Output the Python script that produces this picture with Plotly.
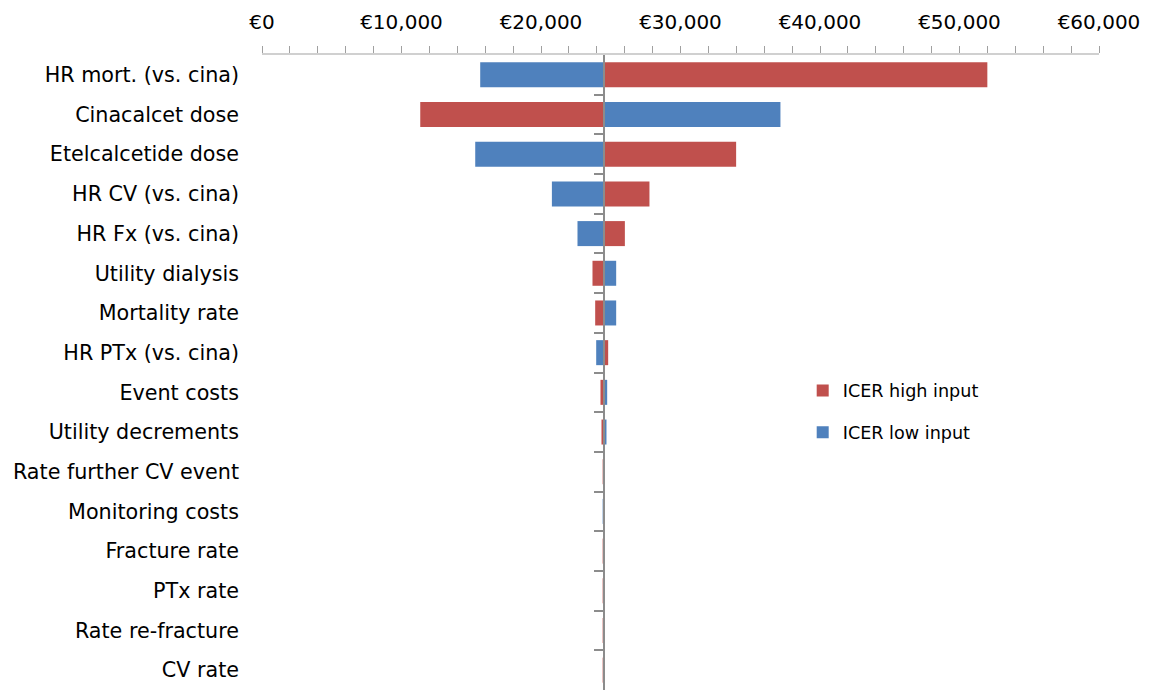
import plotly.graph_objects as go

categories = ["HR mort. (vs. cina)", "Cinacalcet dose", "Etelcalcetide dose", "HR CV (vs. cina)",
              "HR Fx (vs. cina)", "Utility dialysis", "Mortality rate", "HR PTx (vs. cina)",
              "Event costs", "Utility decrements", "Rate further CV event", "Monitoring costs",
              "Fracture rate", "PTx rate", "Rate re-fracture", "CV rate"]

base_icer = 24530

icer_high = [51996, 11344, 33988, 27775, 26012, 23691, 23884, 24815,
             24264, 24336, 24420, 24530, 24420, 24420, 24420, 24420]
icer_low = [15642, 37164, 15285, 20781, 22616, 25389, 25389, 23956,
            24744, 24694, 24530, 24420, 24530, 24530, 24530, 24530]

x_ticks = [0, 10000, 20000, 30000, 40000, 50000, 60000]

RED = "#C0504D"
BLUE = "#4F81BD"
FONT = "DejaVu Sans"

fig = go.Figure()
fig.add_trace(go.Bar(
    y=categories, x=[v - base_icer for v in icer_high], base=base_icer,
    orientation="h", name="ICER high input", marker=dict(color=RED, line=dict(width=0)),
    width=0.63, legendgroup="high"))
fig.add_trace(go.Bar(
    y=categories, x=[v - base_icer for v in icer_low], base=base_icer,
    orientation="h", name="ICER low input", marker=dict(color=BLUE, line=dict(width=0)),
    width=0.63, legendgroup="low"))
# helper trace for the centre axis
fig.add_trace(go.Scatter(x=[base_icer], y=[0], yaxis="y2", mode="none",
                         showlegend=False, hoverinfo="skip"))

n = len(categories)
fig.update_layout(
    width=1149, height=690,
    margin=dict(l=254, r=58, t=47, b=8),
    paper_bgcolor="white", plot_bgcolor="white",
    barmode="overlay",
    font=dict(family=FONT, size=20, color="#000000"),
    xaxis=dict(
        side="top", range=[0, 60000], tickvals=x_ticks,
        ticktext=["€{:,}".format(v) for v in x_ticks],
        ticks="outside", ticklen=7, tickcolor="#A0A0A0", tickwidth=1,
        minor=dict(dtick=2000, ticks="outside", ticklen=7, tickcolor="#A0A0A0", tickwidth=1),
        showline=True, linecolor="#D0D0D0", linewidth=1.5,
        showgrid=False, zeroline=False, ticklabelstandoff=9, automargin=False,
        tickfont=dict(size=20),
    ),
    yaxis=dict(
        categoryorder="array", categoryarray=categories,
        range=[n - 0.5, -0.5], ticks="", showline=False, showgrid=False,
        zeroline=False, ticklabelstandoff=22, tickfont=dict(size=20.7), automargin=False,
    ),
    yaxis2=dict(
        overlaying="y", anchor="free", position=base_icer / 60000, side="left",
        range=[n - 0.5, -0.5], tickvals=[i + 0.5 for i in range(n - 1)],
        showticklabels=False, ticks="outside", ticklen=9, tickcolor="#8C8C8C", tickwidth=1.5,
        showline=True, linecolor="#8C8C8C", linewidth=1.5, showgrid=False, zeroline=False,
    ),
    legend=dict(
        x=0.646, y=0.4386, xanchor="left", yanchor="middle",
        font=dict(size=17.6), traceorder="grouped", tracegroupgap=16,
        bgcolor="rgba(0,0,0,0)",
    ),
    showlegend=True,
)

fig.write_html("out.html")
